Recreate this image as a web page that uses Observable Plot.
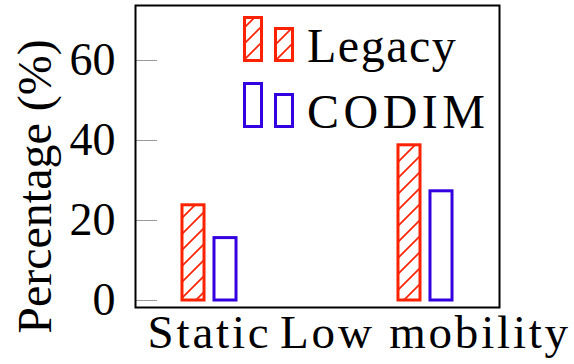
<!DOCTYPE html>
<html>
<head>
<meta charset="utf-8">
<script src="https://cdn.jsdelivr.net/npm/d3@7"></script>
<script src="https://cdn.jsdelivr.net/npm/@observablehq/plot@0.6"></script>
<style>
  html, body { margin: 0; padding: 0; background: #fff; }
  #chart { position: relative; width: 574px; height: 364px; }
  g[aria-label="x-axis tick label"] text { letter-spacing: 2.8px; }
  g[aria-label="ylabel"] text { letter-spacing: 2.2px; }
</style>
</head>
<body>
<div id="chart"></div>
<script>
// ---- data ----
const categories = ["Static", "Low mobility"];
const seriesNames = ["Legacy", "CODIM"];
const legacyValues = [23.8, 38.8];
const codimValues = [15.6, 27.3];
const yTicks = [0, 20, 40, 60];
const yLabel = "Percentage (%)";

const RED = "#ff2200";
const BLUE = "#3300e0";

const W = 574, H = 364;
const mL = 135, mR = 75, mT = 5, mB = 57;
const plotW = W - mL - mR;
const padInner = 0.315, padOuter = 0;
const step = plotW / (categories.length - padInner + 2 * padOuter);
const bw = step * (1 - padInner);
const barW = 22;
const inset = (bw - barW) / 2;

const legacyData = categories.map((c, i) => ({category: c, value: legacyValues[i]}));
const codimData = categories.map((c, i) => ({category: c, value: codimValues[i]}));

const font = "Liberation Serif";

const chart = Plot.plot({
  width: W,
  height: H,
  marginLeft: mL,
  marginRight: mR,
  marginTop: mT,
  marginBottom: mB,
  style: {background: "#fff", color: "#000", fontFamily: font},
  x: {type: "band", domain: categories, paddingInner: padInner, paddingOuter: padOuter, label: null},
  y: {domain: [-1.75, 73.75], label: null},
  marks: [
    Plot.tickY(yTicks, {y: d => d, stroke: "#999", strokeWidth: 1, insetRight: plotW - 22}),
    Plot.barY(legacyData, {x: "category", y: "value", fill: "url(#hatch)", stroke: RED, strokeWidth: 3, insetLeft: inset, insetRight: inset, dx: -16}),
    Plot.barY(codimData, {x: "category", y: "value", fill: "#fff", stroke: BLUE, strokeWidth: 3, insetLeft: inset, insetRight: inset, dx: 16}),
    Plot.frame({stroke: "#000", strokeWidth: 2}),
    Plot.axisY({ticks: yTicks, tickSize: 0, tickPadding: 20, fontSize: 46, fontFamily: font, label: null}),
    Plot.axisX({tickSize: 0, tickPadding: 7, fontSize: 47, fontFamily: font, label: null}),
    Plot.text([yLabel], {frameAnchor: "left", textAnchor: "middle", lineAnchor: "middle", rotate: -90, dx: -100, dy: 30, fontSize: 48, fontFamily: font, fill: "#000", ariaLabel: "ylabel"})
  ]
});

document.getElementById("chart").appendChild(chart);

// hatch pattern
const svg = d3.select(chart);
const s = 16;
const pat = svg.insert("defs", ":first-child").append("pattern")
  .attr("id", "hatch").attr("patternUnits", "userSpaceOnUse")
  .attr("width", s).attr("height", s);
pat.append("rect").attr("width", s).attr("height", s).attr("fill", "#fff");
pat.append("path")
  .attr("d", `M0,${s} L${s},0 M${-s/4},${s/4} L${s/4},${-s/4} M${3*s/4},${5*s/4} L${5*s/4},${3*s/4}`)
  .attr("stroke", RED).attr("stroke-width", 1.7);

// legend
const lg = svg.append("g").attr("class", "legend")
  .attr("font-family", font).attr("font-size", 48).attr("text-anchor", "start");
const legendRows = [
  {name: seriesNames[0], color: RED, fill: "url(#hatch)", base: 60.5, spacing: 1.5},
  {name: seriesNames[1], color: BLUE, fill: "#fff", base: 126.5, spacing: 4.5}
];
legendRows.forEach(r => {
  lg.append("rect").attr("x", 244.5).attr("y", r.base - 43).attr("width", 17).attr("height", 43)
    .attr("fill", r.fill).attr("stroke", r.color).attr("stroke-width", 3);
  lg.append("rect").attr("x", 275.5).attr("y", r.base - 32).attr("width", 17).attr("height", 32)
    .attr("fill", r.fill).attr("stroke", r.color).attr("stroke-width", 3);
  lg.append("text").attr("x", 307).attr("y", r.base + 1.5).attr("fill", "#000")
    .style("letter-spacing", r.spacing + "px").text(r.name);
});
</script>
</body>
</html>
